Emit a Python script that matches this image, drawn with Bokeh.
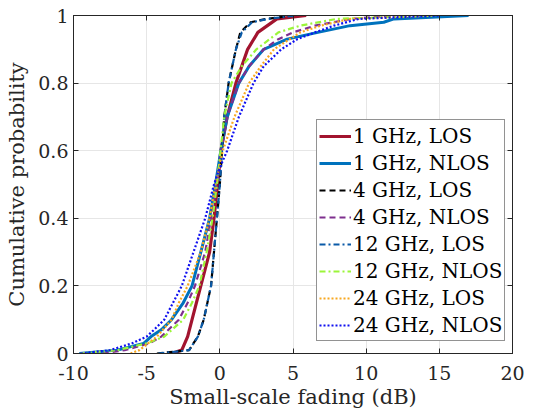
from bokeh.plotting import figure
from bokeh.models import FixedTicker, LinearAxis, Range1d, CustomJSTickFormatter
from bokeh.embed import file_html
from bokeh.resources import INLINE

# CDF data: probability levels and fading values (dB) per series
p_los1 = [0, 0.01, 0.05, 0.1, 0.2, 0.3, 0.4, 0.5, 0.6, 0.7, 0.8, 0.9, 0.95, 0.99, 1.0]
x_1_los = [-3.3, -2.6, -2.2, -1.9, -1.3, -0.7, -0.4, -0.15, 0.07, 0.5, 1.1, 1.9, 2.6, 3.9, 5.9]

p_1n = [0, 0.01, 0.03, 0.05, 0.07, 0.1, 0.15, 0.2, 0.3, 0.4, 0.5, 0.6, 0.7, 0.8, 0.85, 0.9, 0.93, 0.95, 0.97, 0.98, 0.99, 1.0]
x_1_nlos = [-9.6, -7.0, -5.2, -4.7, -4.0, -3.3, -2.5, -1.9, -1.3, -0.7, -0.3, 0.07, 0.5, 1.3, 2.0, 3.0, 4.6, 6.7, 8.9, 11.2, 11.9, 17.0]

p_4l = [0, 0.01, 0.05, 0.1, 0.2, 0.3, 0.4, 0.5, 0.6, 0.7, 0.8, 0.9, 0.95, 0.98, 0.99, 1.0]
x_4_los = [-4.3, -2.1, -1.5, -1.1, -0.6, -0.4, -0.2, 0.0, 0.15, 0.3, 0.6, 1.1, 1.4, 2.1, 3.2, 5.0]

p_4n = [0, 0.01, 0.03, 0.05, 0.1, 0.15, 0.2, 0.3, 0.4, 0.5, 0.6, 0.7, 0.8, 0.85, 0.9, 0.93, 0.95, 0.97, 0.99, 1.0]
x_4_nlos = [-8.0, -6.5, -4.8, -4.0, -2.8, -2.2, -1.7, -1.0, -0.6, -0.2, 0.1, 0.5, 1.3, 2.0, 3.0, 4.0, 5.0, 6.5, 9.0, 12.0]

p_12l = [0, 0.01, 0.05, 0.1, 0.2, 0.3, 0.4, 0.5, 0.6, 0.7, 0.8, 0.9, 0.95, 0.98, 0.99, 1.0]
x_12_los = [-4.2, -2.1, -1.5, -1.1, -0.6, -0.4, -0.2, 0.0, 0.15, 0.3, 0.6, 1.1, 1.5, 2.2, 3.3, 5.2]

p_12n = [0, 0.01, 0.03, 0.05, 0.1, 0.15, 0.2, 0.3, 0.4, 0.5, 0.6, 0.7, 0.8, 0.85, 0.9, 0.95, 0.97, 0.99, 1.0]
x_12_nlos = [-9.5, -7.0, -5.0, -3.8, -2.5, -1.9, -1.4, -0.9, -0.5, -0.2, 0.05, 0.3, 0.8, 1.5, 2.5, 4.0, 5.5, 8.0, 14.8]

p_24l = [0, 0.01, 0.05, 0.1, 0.15, 0.2, 0.3, 0.4, 0.5, 0.6, 0.7, 0.8, 0.85, 0.9, 0.95, 0.97, 0.99, 1.0]
x_24_los = [-6.1, -5.5, -4.3, -3.3, -2.8, -2.2, -1.3, -0.7, -0.3, 0.2, 1.0, 2.0, 2.8, 3.7, 5.5, 6.9, 8.9, 14.6]

p_24n = [0, 0.01, 0.03, 0.05, 0.07, 0.1, 0.15, 0.2, 0.3, 0.4, 0.5, 0.55, 0.6, 0.7, 0.8, 0.85, 0.9, 0.93, 0.95, 0.97, 0.99, 1.0]
x_24_nlos = [-9.5, -7.5, -6.0, -5.0, -4.5, -3.8, -3.2, -2.6, -1.8, -1.0, -0.4, 0.0, 0.5, 1.3, 2.3, 3.0, 4.2, 5.3, 6.5, 7.8, 9.5, 15.0]

labels = ["1 GHz, LOS", "1 GHz, NLOS", "4 GHz, LOS", "4 GHz, NLOS",
          "12 GHz, LOS", "12 GHz, NLOS", "24 GHz, LOS", "24 GHz, NLOS"]

x_ticks = [-10, -5, 0, 5, 10, 15, 20]
x_tick_labels = ["-10", "-5", "0", "5", "10", "15", "20"]
y_ticks = [0, 0.2, 0.4, 0.6, 0.8, 1]
y_tick_labels = ["0", "0.2", "0.4", "0.6", "0.8", "1"]

FONT = "DejaVu Serif"
FS_TICK = "19px"
FS_LEG = "20px"
FS_LAB = "21px"

p = figure(width=535, height=417, output_backend="svg", toolbar_location=None,
           x_range=Range1d(-10, 20), y_range=Range1d(0, 1),
           min_border_left=73, min_border_right=23, min_border_top=15, min_border_bottom=64)
p.background_fill_color = "white"
p.border_fill_color = "white"
p.outline_line_color = "#262626"
p.outline_line_width = 1

series = [
    (x_1_los, p_los1, "#A2142F", "solid", 3.2),
    (x_1_nlos, p_1n, "#0072BD", "solid", 3.0),
    (x_4_los, p_4l, "black", "6 4", 2.2),
    (x_4_nlos, p_4n, "#7E2F8E", "6 4", 2.2),
    (x_12_los, p_12l, "#0A5AA8", "6 3 2 3", 2.2),
    (x_12_nlos, p_12n, "#9BF53A", "6 3 2 3", 2.2),
    (x_24_los, p_24l, "#F8A820", "2 2", 2.2),
    (x_24_nlos, p_24n, "#1010F0", "2 2", 2.2),
]
for (xs, ys, col, dash, w), lab in zip(series, labels):
    p.line(xs, ys, line_color=col, line_dash=dash, line_width=w, legend_label=lab)

for ax in (p.xaxis[0], p.yaxis[0]):
    ax.major_tick_in = 5
    ax.major_tick_out = 0
    ax.minor_tick_in = 0
    ax.minor_tick_out = 0
    ax.axis_line_color = "#262626"
    ax.major_tick_line_color = "#262626"
    ax.major_label_text_font = FONT
    ax.major_label_text_font_size = FS_TICK
    ax.major_label_text_color = "#262626"
    ax.axis_label_text_font = FONT
    ax.axis_label_text_font_size = FS_LAB
    ax.axis_label_text_font_style = "normal"
    ax.axis_label_text_color = "#262626"

p.xaxis.ticker = FixedTicker(ticks=x_ticks)
p.yaxis.ticker = FixedTicker(ticks=y_ticks)
p.xaxis.major_label_overrides = {t: l for t, l in zip(x_ticks, x_tick_labels)}
p.yaxis.major_label_overrides = {t: l for t, l in zip(y_ticks, y_tick_labels)}
p.xaxis.axis_label = "Small-scale fading (dB)"
p.yaxis.axis_label = "Cumulative probability"
p.xaxis.major_label_standoff = 12
p.yaxis.major_label_standoff = 5
p.xaxis.axis_label_standoff = 2
p.yaxis.axis_label_standoff = 6

# top and right axes with ticks only
blank = CustomJSTickFormatter(code="return ''")
top = LinearAxis(ticker=FixedTicker(ticks=x_ticks), formatter=blank,
                 major_tick_in=5, major_tick_out=0, minor_tick_in=0, minor_tick_out=0,
                 axis_line_color="#262626", major_tick_line_color="#262626",
                 major_label_standoff=0)
right = LinearAxis(ticker=FixedTicker(ticks=y_ticks), formatter=blank,
                   major_tick_in=5, major_tick_out=0, minor_tick_in=0, minor_tick_out=0,
                   axis_line_color="#262626", major_tick_line_color="#262626",
                   major_label_standoff=0)
p.add_layout(top, "above")
p.add_layout(right, "right")

p.xgrid.ticker = FixedTicker(ticks=x_ticks)
p.ygrid.ticker = FixedTicker(ticks=y_ticks)
p.grid.grid_line_color = "#E6E6E6"
p.grid.grid_line_width = 1

lg = p.legend[0]
lg.location = (243, 12)
lg.border_line_color = "#262626"
lg.border_line_width = 1
lg.background_fill_color = "white"
lg.background_fill_alpha = 1
lg.label_text_font = FONT
lg.label_text_font_size = FS_LEG
lg.label_text_color = "black"
lg.glyph_width = 32
lg.glyph_height = 20
lg.label_height = 27
lg.label_standoff = 2
lg.spacing = 0
lg.padding = 2
lg.margin = 0

open("out.html", "w").write(file_html(p, INLINE))
